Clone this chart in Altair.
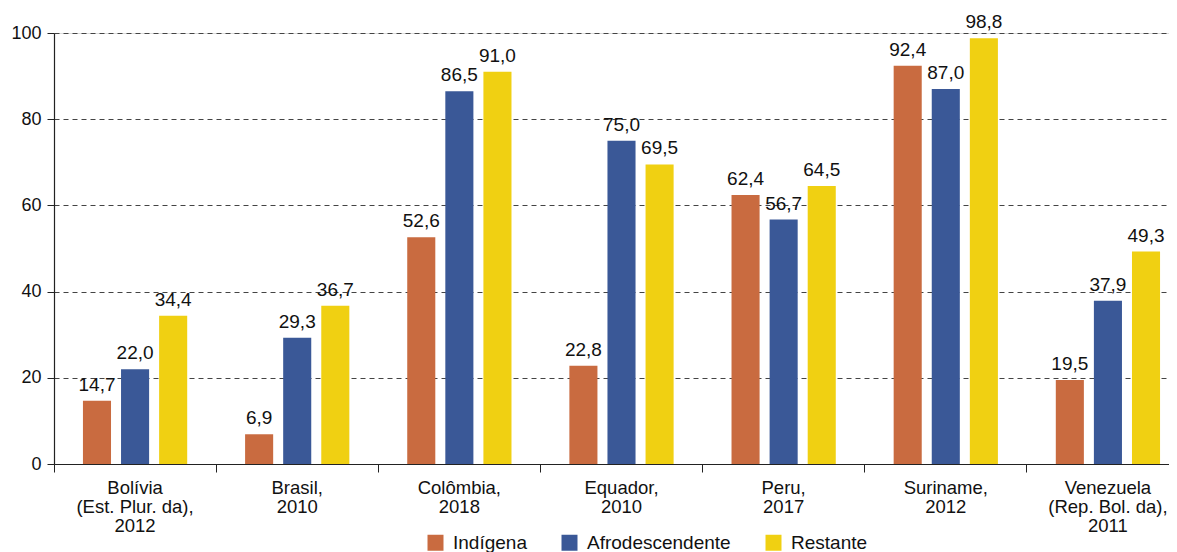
import altair as alt
import pandas as pd

countries = [
    "Bolívia|(Est. Plur. da),|2012",
    "Brasil,|2010",
    "Colômbia,|2018",
    "Equador,|2010",
    "Peru,|2017",
    "Suriname,|2012",
    "Venezuela|(Rep. Bol. da),|2011",
]
groups = ["Indígena", "Afrodescendente", "Restante"]
indigena = [14.7, 6.9, 52.6, 22.8, 62.4, 92.4, 19.5]
afro = [22.0, 29.3, 86.5, 75.0, 56.7, 87.0, 37.9]
restante = [34.4, 36.7, 91.0, 69.5, 64.5, 98.8, 49.3]
colors = ["#C96B40", "#3A5897", "#F0D012"]
y_ticks = [0, 20, 40, 60, 80, 100]

rows = []
for g, vals in zip(groups, [indigena, afro, restante]):
    for c, v in zip(countries, vals):
        rows.append({"pais": c, "grupo": g, "valor": v,
                     "rotulo": f"{v:.1f}".replace(".", ",")})
df = pd.DataFrame(rows)

FONT = "Liberation Sans"

x = alt.X("pais:N", sort=countries, title=None,
          scale=alt.Scale(paddingInner=0, paddingOuter=0),
          axis=alt.Axis(labelExpr="split(datum.label, '|')", labelAngle=0,
                        labelFontSize=18.5, labelLineHeight=19, labelPadding=6,
                        labelBaseline="top", labelColor="#111",
                        bandPosition=0, tickSize=8, tickColor="#222",
                        domainColor="#222", domainWidth=1.2, grid=False))
xo = alt.XOffset("grupo:N", sort=groups,
                 scale=alt.Scale(paddingInner=0.263, paddingOuter=0.76))
y = alt.Y("valor:Q", title=None,
          scale=alt.Scale(domain=[0, 100], nice=False),
          axis=alt.Axis(values=y_ticks, labelFontSize=18, labelPadding=6,
                        labelColor="#111", tickSize=7, tickColor="#222",
                        domainColor="#222", domainWidth=1.2,
                        grid=True, gridDash=[5, 4], gridColor="#444",
                        gridWidth=1))

color = alt.Color("grupo:N", sort=groups,
                  scale=alt.Scale(domain=groups, range=colors),
                  legend=alt.Legend(title=None, orient="none", direction="horizontal",
                                    legendX=372, legendY=500,
                                    symbolType="square", symbolSize=256,
                                    symbolStrokeWidth=0, labelFontSize=19,
                                    labelOffset=8, columnPadding=33,
                                    labelColor="#111", padding=0))

bars = alt.Chart(df).mark_bar().encode(x=x, xOffset=xo, y=y, color=color)
text = alt.Chart(df).mark_text(baseline="alphabetic", dy=-10, fontSize=19,
                               color="#111").encode(
    x=x, xOffset=xo, y=y, text="rotulo:N")

chart = alt.layer(bars, text).properties(
    width=1135, height=431,
    autosize=alt.AutoSizeParams(type="none"),
    padding={"left": 46, "top": 25, "right": -20, "bottom": 88},
).configure_view(stroke=None).configure(font=FONT)

chart.save("out.html", embed_options={"renderer": "svg", "actions": False})
